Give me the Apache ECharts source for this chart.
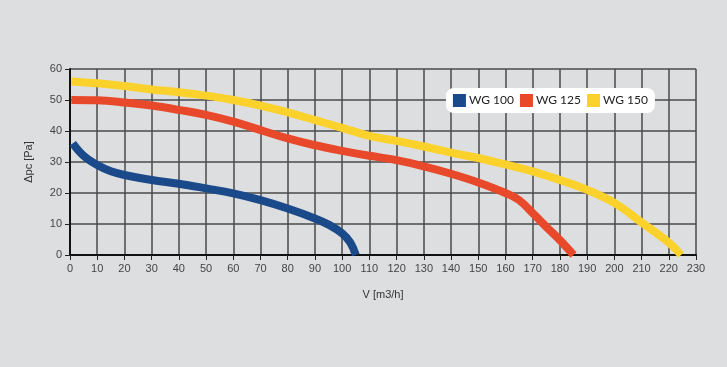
<!DOCTYPE html>
<html><head><meta charset="utf-8">
<script src="https://cdn.jsdelivr.net/npm/echarts@6/dist/echarts.min.js"></script>
<style>html,body{margin:0;padding:0;background:#dddee0}#c{width:727px;height:367px}</style>
</head><body><div id="c"></div>
<script>
const seriesNames = ['WG 100', 'WG 125', 'WG 150'];
const wg100 = [[1,36],[5,32],[10,29],[15,27],[20,25.8],[30,24.2],[40,23],[50,21.5],[60,19.9],[70,17.7],[80,15],[90,11.8],[95,9.8],[100,7],[103,4],[105,0]];
const wg125 = [[0.5,50],[10,49.9],[20,49.2],[30,48.2],[40,46.8],[50,45.2],[60,43],[70,40.3],[80,37.6],[90,35.4],[100,33.6],[110,32],[120,30.6],[130,28.6],[140,26.2],[150,23.4],[160,20],[165,17.7],[170,13.5],[175,9.1],[180,4.8],[185,0]];
const wg150 = [[0.5,56],[10,55.4],[20,54.5],[30,53.4],[40,52.5],[50,51.4],[60,50],[70,48.2],[80,46],[90,43.5],[100,41],[110,38.4],[120,36.8],[130,35],[140,33],[150,31.3],[160,29.2],[170,27],[180,24.2],[190,21],[200,16.8],[210,10.5],[220,4],[224.5,0]];
const colors = ['#1b4a8a', '#e8492b', '#fbd22c'];

const chart = echarts.init(document.getElementById('c'), null, {renderer:'canvas'});
const font = '"Liberation Sans Narrow", "Liberation Sans", Arial, sans-serif';
chart.setOption({
  backgroundColor: '#dddee0',
  animation: false,
  grid: {left: 70, right: 31, top: 69, bottom: 112},
  legend: {
    data: seriesNames,
    right: 72, top: 88,
    backgroundColor: '#ffffff',
    borderRadius: 8,
    padding: [6, 7],
    itemGap: 6,
    itemWidth: 13, itemHeight: 13,
    icon: 'rect',
    textStyle: {fontFamily: 'Lato, "Open Sans", sans-serif', fontSize: 12, color: '#222', padding: [0, 0, 0, -2]}
  },
  xAxis: {
    type: 'value', min: 0, max: 230, interval: 10,
    name: 'V [m3/h]', nameLocation: 'middle', nameGap: 34,
    nameTextStyle: {fontFamily: font, fontSize: 11, color: '#333'},
    axisLine: {show: true, lineStyle: {color: '#111', width: 2}},
    axisTick: {show: true, length: 5, lineStyle: {color: '#222', width: 1}},
    axisLabel: {fontFamily: font, fontSize: 11, color: '#444', margin: 8},
    splitLine: {show: true, lineStyle: {color: '#4a4a4a', width: 1.5}}
  },
  yAxis: {
    type: 'value', min: 0, max: 60, interval: 10,
    name: 'Δpc [Pa]', nameLocation: 'middle', nameGap: 36, nameRotate: 90,
    nameTextStyle: {fontFamily: font, fontSize: 11, color: '#333'},
    axisLine: {show: true, lineStyle: {color: '#111', width: 2}},
    axisTick: {show: true, length: 5, lineStyle: {color: '#222', width: 1}},
    axisLabel: {fontFamily: font, fontSize: 11, color: '#444', margin: 8},
    splitLine: {show: true, lineStyle: {color: '#4a4a4a', width: 1.5}}
  },
  series: [wg100, wg125, wg150].map((d, i) => ({
    name: seriesNames[i], type: 'line', data: d, smooth: 0.4,
    showSymbol: false, symbol: 'none',
    itemStyle: {color: colors[i]},
    lineStyle: {color: colors[i], width: 8}
  }))
});
</script></body></html>
